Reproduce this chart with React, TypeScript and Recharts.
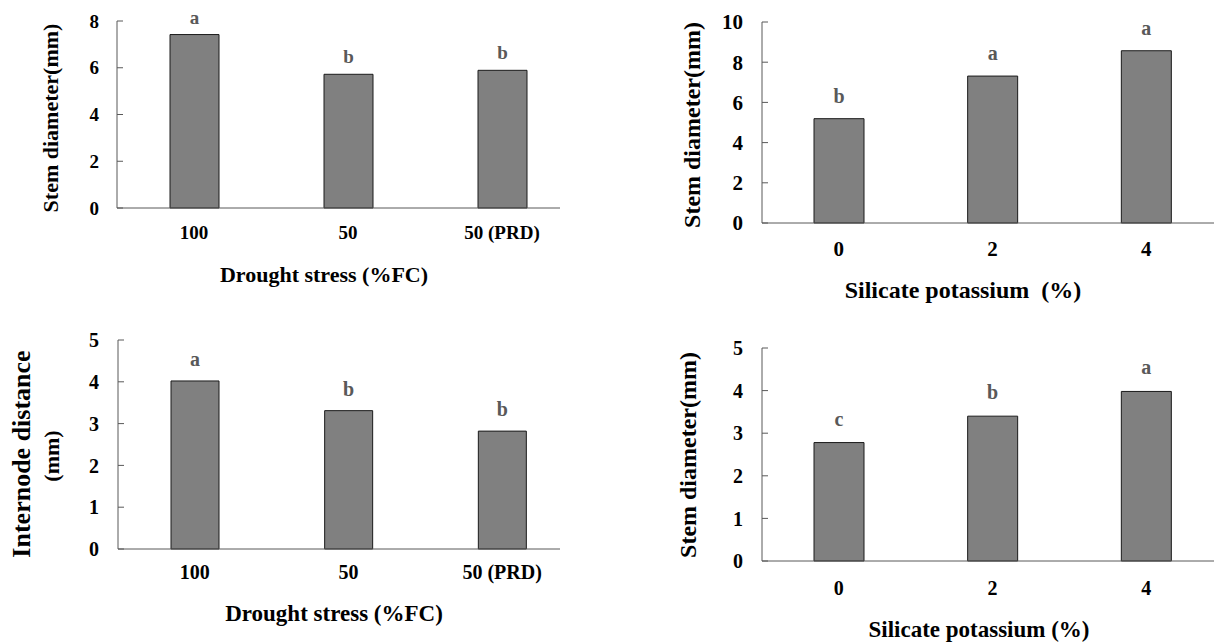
import React from 'react';
import { BarChart, Bar, XAxis, YAxis, LabelList } from 'recharts';

const FONT = '"Liberation Serif", "Times New Roman", serif';
const AXIS = '#595959';

// categories
const droughtLevels = ['100', '50', '50 (PRD)'];
const silicateLevels = ['0', '2', '4'];

// series values
const stemDiameterDrought = [7.42, 5.72, 5.89];
const stemDiameterDroughtLetters = ['a', 'b', 'b'];
const stemDiameterSilicate = [5.19, 7.31, 8.57];
const stemDiameterSilicateLetters = ['b', 'a', 'a'];
const internodeDrought = [4.02, 3.31, 2.82];
const internodeDroughtLetters = ['a', 'b', 'b'];
const stemDiameterSilicate2 = [2.78, 3.4, 3.98];
const stemDiameterSilicate2Letters = ['c', 'b', 'a'];

// tick labels
const ticks8 = [0, 2, 4, 6, 8];
const ticks10 = [0, 2, 4, 6, 8, 10];
const ticks5 = [0, 1, 2, 3, 4, 5];

function build(cats: string[], vals: number[], letters: string[]) {
  return cats.map((c, i) => ({ cat: c, value: vals[i], sig: letters[i] }));
}

type PanelProps = {
  left: number; top: number; clipW: number; clipH: number;
  w: number; h: number; mt: number; mr: number; yw: number; xh: number;
  xtm: number; ytm: number; max: number; ticks: number[];
  tf: number; lf: number; lo: number; bs: number;
  data: { cat: string; value: number; sig: string }[];
};

function Panel(p: PanelProps) {
  const tickStyle = { fill: '#000', fontSize: p.tf, fontWeight: 'bold', fontFamily: FONT };
  return (
    <div style={{ position: 'absolute', left: p.left, top: p.top, width: p.clipW, height: p.clipH, overflow: 'hidden' }}>
      <BarChart width={p.w} height={p.h} data={p.data} margin={{ top: p.mt, right: p.mr, left: 0, bottom: 0 }}>
        <XAxis
          dataKey="cat"
          type="category"
          height={p.xh}
          interval={0}
          tickLine={false}
          tickSize={0}
          tickMargin={p.xtm}
          axisLine={{ stroke: AXIS, strokeWidth: 1 }}
          tick={tickStyle}
        />
        <YAxis
          type="number"
          domain={[0, p.max]}
          ticks={p.ticks}
          width={p.yw}
          interval={0}
          tickSize={-6}
          tickMargin={p.ytm}
          axisLine={{ stroke: AXIS, strokeWidth: 1 }}
          tickLine={{ stroke: AXIS, strokeWidth: 1 }}
          tick={tickStyle}
        />
        <Bar dataKey="value" fill="#808080" stroke="#1a1a1a" strokeWidth={1} barSize={p.bs} isAnimationActive={false}>
          <LabelList dataKey="sig" position="top" offset={p.lo} fill="#595959" fontSize={p.lf} fontWeight="bold" fontFamily={FONT} />
        </Bar>
      </BarChart>
    </div>
  );
}

function Title({ x, y, size, text, rotate }: { x: number; y: number; size: number; text: string; rotate?: boolean }) {
  return (
    <div
      style={{
        position: 'absolute',
        left: x,
        top: y,
        transform: `translate(-50%, -50%)${rotate ? ' rotate(-90deg)' : ''}`,
        fontFamily: FONT,
        fontWeight: 'bold',
        fontSize: size,
        whiteSpace: 'pre',
        lineHeight: 1,
        color: '#000',
      }}
    >
      {text}
    </div>
  );
}

export default function App() {
  return (
    <div style={{ position: 'absolute', left: 0, top: 0, width: 1214, height: 643, background: '#fff', overflow: 'hidden' }}>
      <Panel left={0} top={0} clipW={560} clipH={320} w={600} h={300} mt={21} mr={21} yw={117} xh={92}
        xtm={18} ytm={24} max={8} ticks={ticks8} tf={19} lf={19} lo={11} bs={49}
        data={build(droughtLevels, stemDiameterDrought, stemDiameterDroughtLetters)} />
      <Panel left={640} top={0} clipW={574} clipH={320} w={583} h={300} mt={22} mr={0} yw={122} xh={77}
        xtm={18} ytm={25} max={10} ticks={ticks10} tf={21} lf={20} lo={16} bs={50}
        data={build(silicateLevels, stemDiameterSilicate, stemDiameterSilicateLetters)} />
      <Panel left={0} top={320} clipW={560} clipH={323} w={600} h={300} mt={20} mr={21} yw={118} xh={71}
        xtm={16} ytm={25} max={5} ticks={ticks5} tf={20} lf={20} lo={15} bs={48}
        data={build(droughtLevels, internodeDrought, internodeDroughtLetters)} />
      <Panel left={640} top={320} clipW={574} clipH={323} w={583} h={300} mt={28} mr={0} yw={122} xh={59}
        xtm={20} ytm={25} max={5} ticks={ticks5} tf={20} lf={20} lo={17} bs={50}
        data={build(silicateLevels, stemDiameterSilicate2, stemDiameterSilicate2Letters)} />

      <Title x={324} y={275} size={22} text="Drought stress (%FC)" />
      <Title x={50.5} y={118} size={22} text="Stem diameter(mm)" rotate />

      <Title x={963} y={290} size={24} text="Silicate potassium  (%)" />
      <Title x={692} y={125} size={24} text="Stem diameter(mm)" rotate />

      <Title x={334} y={613} size={23} text="Drought stress (%FC)" />
      <Title x={22} y={454} size={26} text="Internode distance" rotate />
      <Title x={52} y={456} size={22} text="(mm)" rotate />

      <Title x={979} y={629} size={23} text="Silicate potassium (%)" />
      <Title x={688} y={455} size={24} text="Stem diameter(mm)" rotate />
    </div>
  );
}
